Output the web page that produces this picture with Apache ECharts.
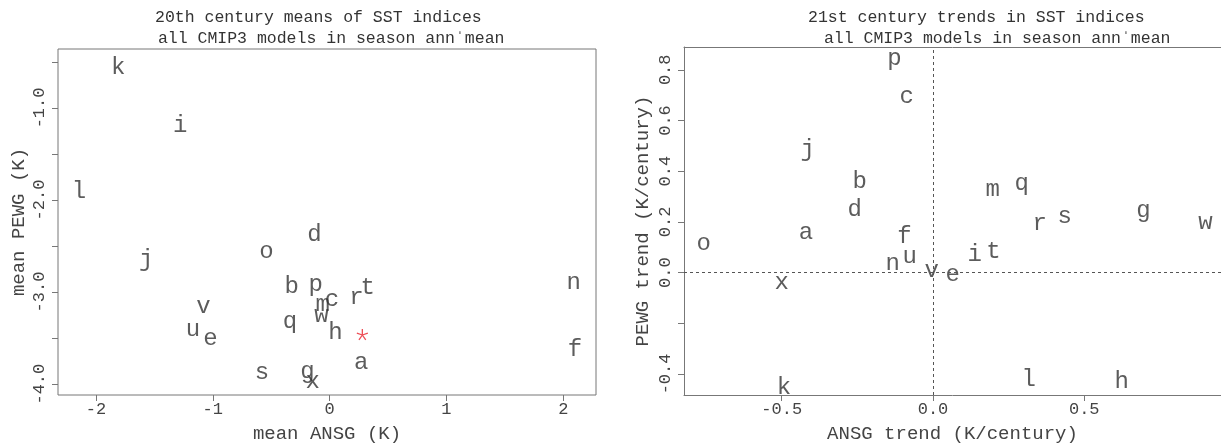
<!DOCTYPE html>
<html><head><meta charset="utf-8">
<script src="https://cdn.jsdelivr.net/npm/echarts@6/dist/echarts.min.js"></script>
<style>html,body{margin:0;padding:0;background:#fff}#c{width:1221px;height:448px}</style>
</head><body><div id="c"></div>
<script>
// ---- data ----
const models = ['a','b','c','d','e','f','g','h','i','j','k','l','m','n','o','p','q','r','s','t','u','v','w','x'];
const meanANSG = [0.27,-0.325,0.02,-0.13,-1.02,2.10,-0.19,0.05,-1.28,-1.57,-1.81,-2.145,-0.06,2.09,-0.54,-0.12,-0.34,0.23,-0.58,0.325,-1.17,-1.08,-0.07,-0.145];
const meanPEWG = [-3.77,-2.94,-3.08,-2.38,-3.51,-3.63,-3.86,-3.44,-1.19,-2.65,-0.56,-1.91,-3.14,-2.90,-2.56,-2.92,-3.32,-3.06,-3.87,-2.95,-3.41,-3.16,-3.26,-3.97];
const obsMean = [0.28, -3.46];
const trendANSG = [-0.42,-0.242,-0.087,-0.259,0.065,-0.094,0.696,0.624,0.138,-0.414,-0.493,0.316,0.197,-0.133,-0.758,-0.127,0.293,0.353,0.435,0.20,-0.077,-0.004,0.901,-0.50];
const trendPEWG = [0.158,0.357,0.694,0.248,-0.007,0.142,0.244,-0.429,0.072,0.486,-0.453,-0.421,0.326,0.036,0.115,0.843,0.35,0.193,0.22,0.083,0.064,0.009,0.197,-0.038];
const leftXTicks = [-2,-1,0,1,2];
const leftYTicks = [-4,-3.5,-3,-2.5,-2,-1.5,-1,-0.5];
const leftYLabels = [-4,-3,-2,-1];
const rightXTicks = [-0.5,0,0.5];
const rightYTicks = [-0.4,-0.2,0,0.2,0.4,0.6,0.8];
const rightYLabels = [-0.4,0,0.2,0.4,0.6,0.8];
const titleLeft = ['20th century means of SST indices', ' all CMIP3 models in season ann\u02c8mean'];
const titleRight = ['21st century trends in SST indices', ' all CMIP3 models in season ann\u02c8mean'];
const axisNames = ['mean ANSG (K)', 'mean PEWG (K)', 'ANSG trend (K/century)', 'PEWG trend (K/century)'];

// ---- chart ----
const FONT = "'Liberation Mono','DejaVu Sans Mono',monospace";
const BOX = '#777';
const chart = echarts.init(document.getElementById('c'), null, {renderer:'canvas'});
const tStyle = {fontFamily:FONT, fontSize:16.5, fontWeight:'normal', color:'#333'};
function xAx(grid, min, max, ticks, fmt, name, line){
  return {type:'value', gridIndex:grid, min:min, max:max, position:'bottom',
    axisLine:{show:line, onZero:false, lineStyle:{color:BOX, width:1}}, splitLine:{show:false},
    axisTick:{show:true, inside:false, length:6, customValues:ticks, lineStyle:{color:BOX}},
    axisLabel:{show:true, customValues:ticks, formatter:fmt, margin:6, fontFamily:FONT, fontSize:17, color:'#444'},
    name:name, nameLocation:'middle', nameGap:29, nameTextStyle:{fontFamily:FONT, fontSize:19, color:'#444'}};
}
function yAx(grid, min, max, ticks, labels, fmt, name, gap, line){
  return {type:'value', gridIndex:grid, min:min, max:max, position:'left',
    axisLine:{show:line, onZero:false, lineStyle:{color:BOX, width:1}}, splitLine:{show:false},
    axisTick:{show:true, inside:false, length:6, customValues:ticks, lineStyle:{color:BOX}},
    axisLabel:{show:true, customValues:labels, formatter:fmt, rotate:90, margin:10, fontFamily:FONT, fontSize:17, color:'#444'},
    name:name, nameLocation:'middle', nameGap:gap, nameTextStyle:{fontFamily:FONT, fontSize:19, color:'#444'}};
}
const lbl = {show:true, position:'inside', formatter:p=>p.name, fontFamily:FONT, fontSize:24, color:'#333'};
function pts(xs, ys){ return models.map((m,i)=>({name:m, value:[xs[i], ys[i]]})); }

chart.setOption({
  animation:false,
  backgroundColor:'#fff',
  title:[
    {text:titleLeft[0], left:150, top:4, textStyle:tStyle},
    {text:titleLeft[1], left:143, top:25, textStyle:tStyle},
    {text:titleRight[0], left:803, top:4, textStyle:tStyle},
    {text:titleRight[1], left:809, top:25, textStyle:tStyle}
  ],
  grid:[
    {left:58, top:49, width:538, height:350, show:true, borderColor:BOX, borderWidth:1, backgroundColor:'transparent'},
    {left:684, top:47, right:0, height:351, show:false}
  ],
  xAxis:[
    xAx(0, -2.325, 2.28, leftXTicks, v=>String(v), axisNames[0], false),
    xAx(1, -0.823, 0.952, rightXTicks, v=>v.toFixed(1), axisNames[2], true),
    {type:'value', gridIndex:1, min:-0.823, max:0.952, position:'top',
      axisLine:{show:true, onZero:false, lineStyle:{color:BOX, width:1}},
      axisTick:{show:false}, axisLabel:{show:false}, splitLine:{show:false}}
  ],
  yAxis:[
    yAx(0, -4.118, -0.36, leftYTicks, leftYLabels, v=>v.toFixed(1), axisNames[1], 30, false),
    yAx(1, -0.483, 0.89, rightYTicks, rightYLabels, v=>v.toFixed(1), axisNames[3], 32, true)
  ],
  series:[
    {type:'scatter', xAxisIndex:0, yAxisIndex:0, symbolSize:1, itemStyle:{color:'transparent'},
      label:lbl, data:pts(meanANSG, meanPEWG)},
    {type:'scatter', xAxisIndex:0, yAxisIndex:0, symbolSize:11,
      symbol:'path://M0,0L0,-1M0,0L0.951,-0.309M0,0L0.588,0.809M0,0L-0.588,0.809M0,0L-0.951,-0.309',
      itemStyle:{color:'transparent', borderColor:'#e8202a', borderWidth:1.3},
      data:[obsMean]},
    {type:'scatter', xAxisIndex:1, yAxisIndex:1, symbolSize:1, itemStyle:{color:'transparent'},
      label:lbl, data:pts(trendANSG, trendPEWG),
      markLine:{silent:true, symbol:'none', animation:false, label:{show:false},
        lineStyle:{type:[3,3], color:'#555', width:1},
        data:[{xAxis:0},{yAxis:0}]}}
  ]
});
</script></body></html>
